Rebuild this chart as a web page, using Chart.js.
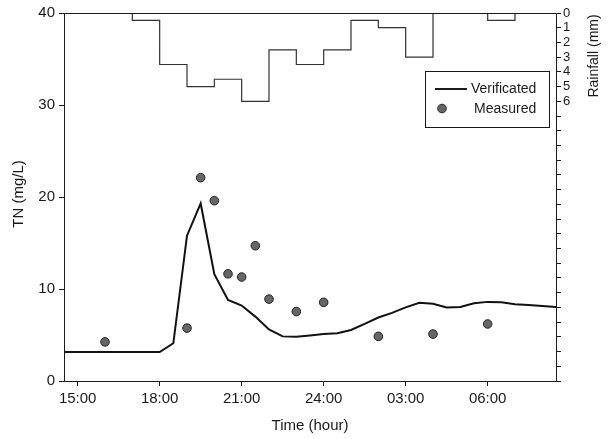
<!DOCTYPE html>
<html>
<head>
<meta charset="utf-8">
<script src="https://cdn.jsdelivr.net/npm/chart.js@4.4.1/dist/chart.umd.min.js"></script>
<style>
  html, body { margin: 0; padding: 0; background: #fff; }
  #wrap { width: 614px; height: 439px; }
</style>
</head>
<body>
<div id="wrap"><canvas id="c" width="614" height="439"></canvas></div>
<script>
// ---- data (hours; 24 = midnight, 27 = 03:00 next day) ----
const timeTicks = [15, 18, 21, 24, 27, 30];
const timeLabels = ['15:00', '18:00', '21:00', '24:00', '03:00', '06:00'];

const verTimes = [14.5,15,15.5,16,16.5,17,17.5,18,18.5,19,19.5,20,20.5,21,21.5,22,22.5,23,23.5,24,24.5,25,25.5,26,26.5,27,27.5,28,28.5,29,29.5,30,30.5,31,31.5,32,32.5];
const verTN = [3.15,3.15,3.15,3.15,3.15,3.15,3.15,3.15,4.1,15.8,19.3,11.6,8.8,8.2,7.0,5.6,4.85,4.8,4.95,5.1,5.2,5.55,6.2,6.9,7.4,8.0,8.5,8.4,8.0,8.05,8.45,8.6,8.55,8.35,8.25,8.15,8.05];

const measTimes = [16, 19, 19.5, 20, 20.5, 21, 21.5, 22, 23, 24, 26, 28, 30];
const measTN = [4.25, 5.75, 22.1, 19.6, 11.65, 11.3, 14.7, 8.9, 7.55, 8.55, 4.85, 5.1, 6.2];

const rainTimes = [14.5, 17, 18, 19, 20, 21, 22, 23, 24, 25, 26, 27, 28, 30, 31, 32.5];
const rainMM = [0, 0.5, 3.5, 5.0, 4.5, 6.0, 2.5, 3.5, 2.5, 0.5, 1.0, 3.0, 0, 0.5, 0, 0];

const tnTicks = [0, 10, 20, 30, 40];
const rainLabelMax = 6;

const FONT = "'Liberation Sans', Arial, Helvetica, sans-serif";
const INK = '#1a1a1a';

const zip = (xs, ys) => xs.map((x, i) => ({ x: x, y: ys[i] }));

const decor = {
  id: 'decor',
  afterDraw(chart) {
    const ctx = chart.ctx;
    const a = chart.chartArea;
    ctx.save();
    // frame
    ctx.strokeStyle = INK;
    ctx.lineWidth = 1;
    ctx.strokeRect(Math.round(a.left) + 0.5, Math.round(a.top) + 0.5, Math.round(a.right - a.left), Math.round(a.bottom - a.top));
    // axis titles
    ctx.fillStyle = INK;
    ctx.textAlign = 'center';
    ctx.textBaseline = 'middle';
    ctx.font = '15px ' + FONT;
    ctx.fillText('Time (hour)', (a.left + a.right) / 2, 426);
    ctx.save();
    ctx.translate(19, 194);
    ctx.rotate(-Math.PI / 2);
    ctx.fillText('TN (mg/L)', 0, 0);
    ctx.restore();
    ctx.save();
    ctx.translate(594, 56);
    ctx.rotate(-Math.PI / 2);
    ctx.font = '14px ' + FONT;
    ctx.fillText('Rainfall (mm)', 0, 0);
    ctx.restore();
    // legend
    ctx.strokeStyle = INK;
    ctx.lineWidth = 1;
    ctx.fillStyle = '#fff';
    ctx.fillRect(425.5, 71.5, 124, 56);
    ctx.strokeRect(425.5, 71.5, 124, 56);
    ctx.beginPath();
    ctx.lineWidth = 2;
    ctx.moveTo(435, 89);
    ctx.lineTo(467, 89);
    ctx.stroke();
    ctx.beginPath();
    ctx.arc(442, 108.5, 4.3, 0, Math.PI * 2);
    ctx.fillStyle = '#666';
    ctx.fill();
    ctx.lineWidth = 1;
    ctx.strokeStyle = '#222';
    ctx.stroke();
    ctx.fillStyle = INK;
    ctx.textAlign = 'left';
    ctx.font = '14px ' + FONT;
    ctx.fillText('Verificated', 471, 89);
    ctx.fillText('Measured', 474, 109);
    ctx.restore();
  }
};

new Chart(document.getElementById('c'), {
  type: 'line',
  data: {
    datasets: [
      {
        label: 'Verificated',
        data: zip(verTimes, verTN),
        xAxisID: 'x', yAxisID: 'y',
        borderColor: '#111', borderWidth: 2,
        pointRadius: 0, tension: 0,
        fill: false, order: 2
      },
      {
        label: 'Measured',
        data: zip(measTimes, measTN),
        xAxisID: 'x', yAxisID: 'y',
        showLine: false,
        pointRadius: 4.3, pointStyle: 'circle',
        pointBackgroundColor: '#666', pointBorderColor: '#222', pointBorderWidth: 1,
        order: 1
      },
      {
        label: 'Rainfall',
        data: zip(rainTimes, rainMM),
        xAxisID: 'x', yAxisID: 'y2',
        stepped: 'before',
        borderColor: '#333', borderWidth: 1.2,
        pointRadius: 0, fill: false, order: 3
      }
    ]
  },
  options: {
    responsive: false,
    animation: false,
    layout: { padding: { top: 13, left: 0, right: 0, bottom: 0 } },
    plugins: { legend: { display: false }, tooltip: { enabled: false } },
    scales: {
      x: {
        type: 'linear',
        min: 14.5, max: 32.5,
        afterBuildTicks: (s) => { s.ticks = timeTicks.map(v => ({ value: v })); },
        afterFit: (s) => { s.height = 58; },
        ticks: {
          autoSkip: false, maxRotation: 0,
          color: INK, font: { family: FONT, size: 15 }, padding: 4,
          callback: (v) => { const i = timeTicks.indexOf(v); return i >= 0 ? timeLabels[i] : ''; }
        },
        grid: { drawOnChartArea: false, drawTicks: true, tickLength: 5, color: INK },
        border: { display: true, color: INK }
      },
      y: {
        position: 'left',
        min: 0, max: 40,
        afterBuildTicks: (s) => { s.ticks = tnTicks.map(v => ({ value: v })); },
        afterFit: (s) => { s.width = 64; },
        ticks: { color: INK, font: { family: FONT, size: 15 }, padding: 4 },
        grid: { drawOnChartArea: false, drawTicks: true, tickLength: 5, color: INK },
        border: { display: true, color: INK }
      },
      y2: {
        position: 'right',
        reverse: true,
        min: 0, max: 25,
        afterBuildTicks: (s) => { const t = []; for (let v = 0; v <= 25; v++) t.push({ value: v }); s.ticks = t; },
        afterFit: (s) => { s.width = 58; },
        ticks: {
          autoSkip: false, color: INK, font: { family: FONT, size: 13 }, padding: 2,
          callback: (v) => (v <= rainLabelMax ? String(v) : '')
        },
        grid: { drawOnChartArea: false, drawTicks: true, tickLength: 5, color: INK },
        border: { display: true, color: INK }
      }
    }
  },
  plugins: [decor]
});
</script>
</body>
</html>
